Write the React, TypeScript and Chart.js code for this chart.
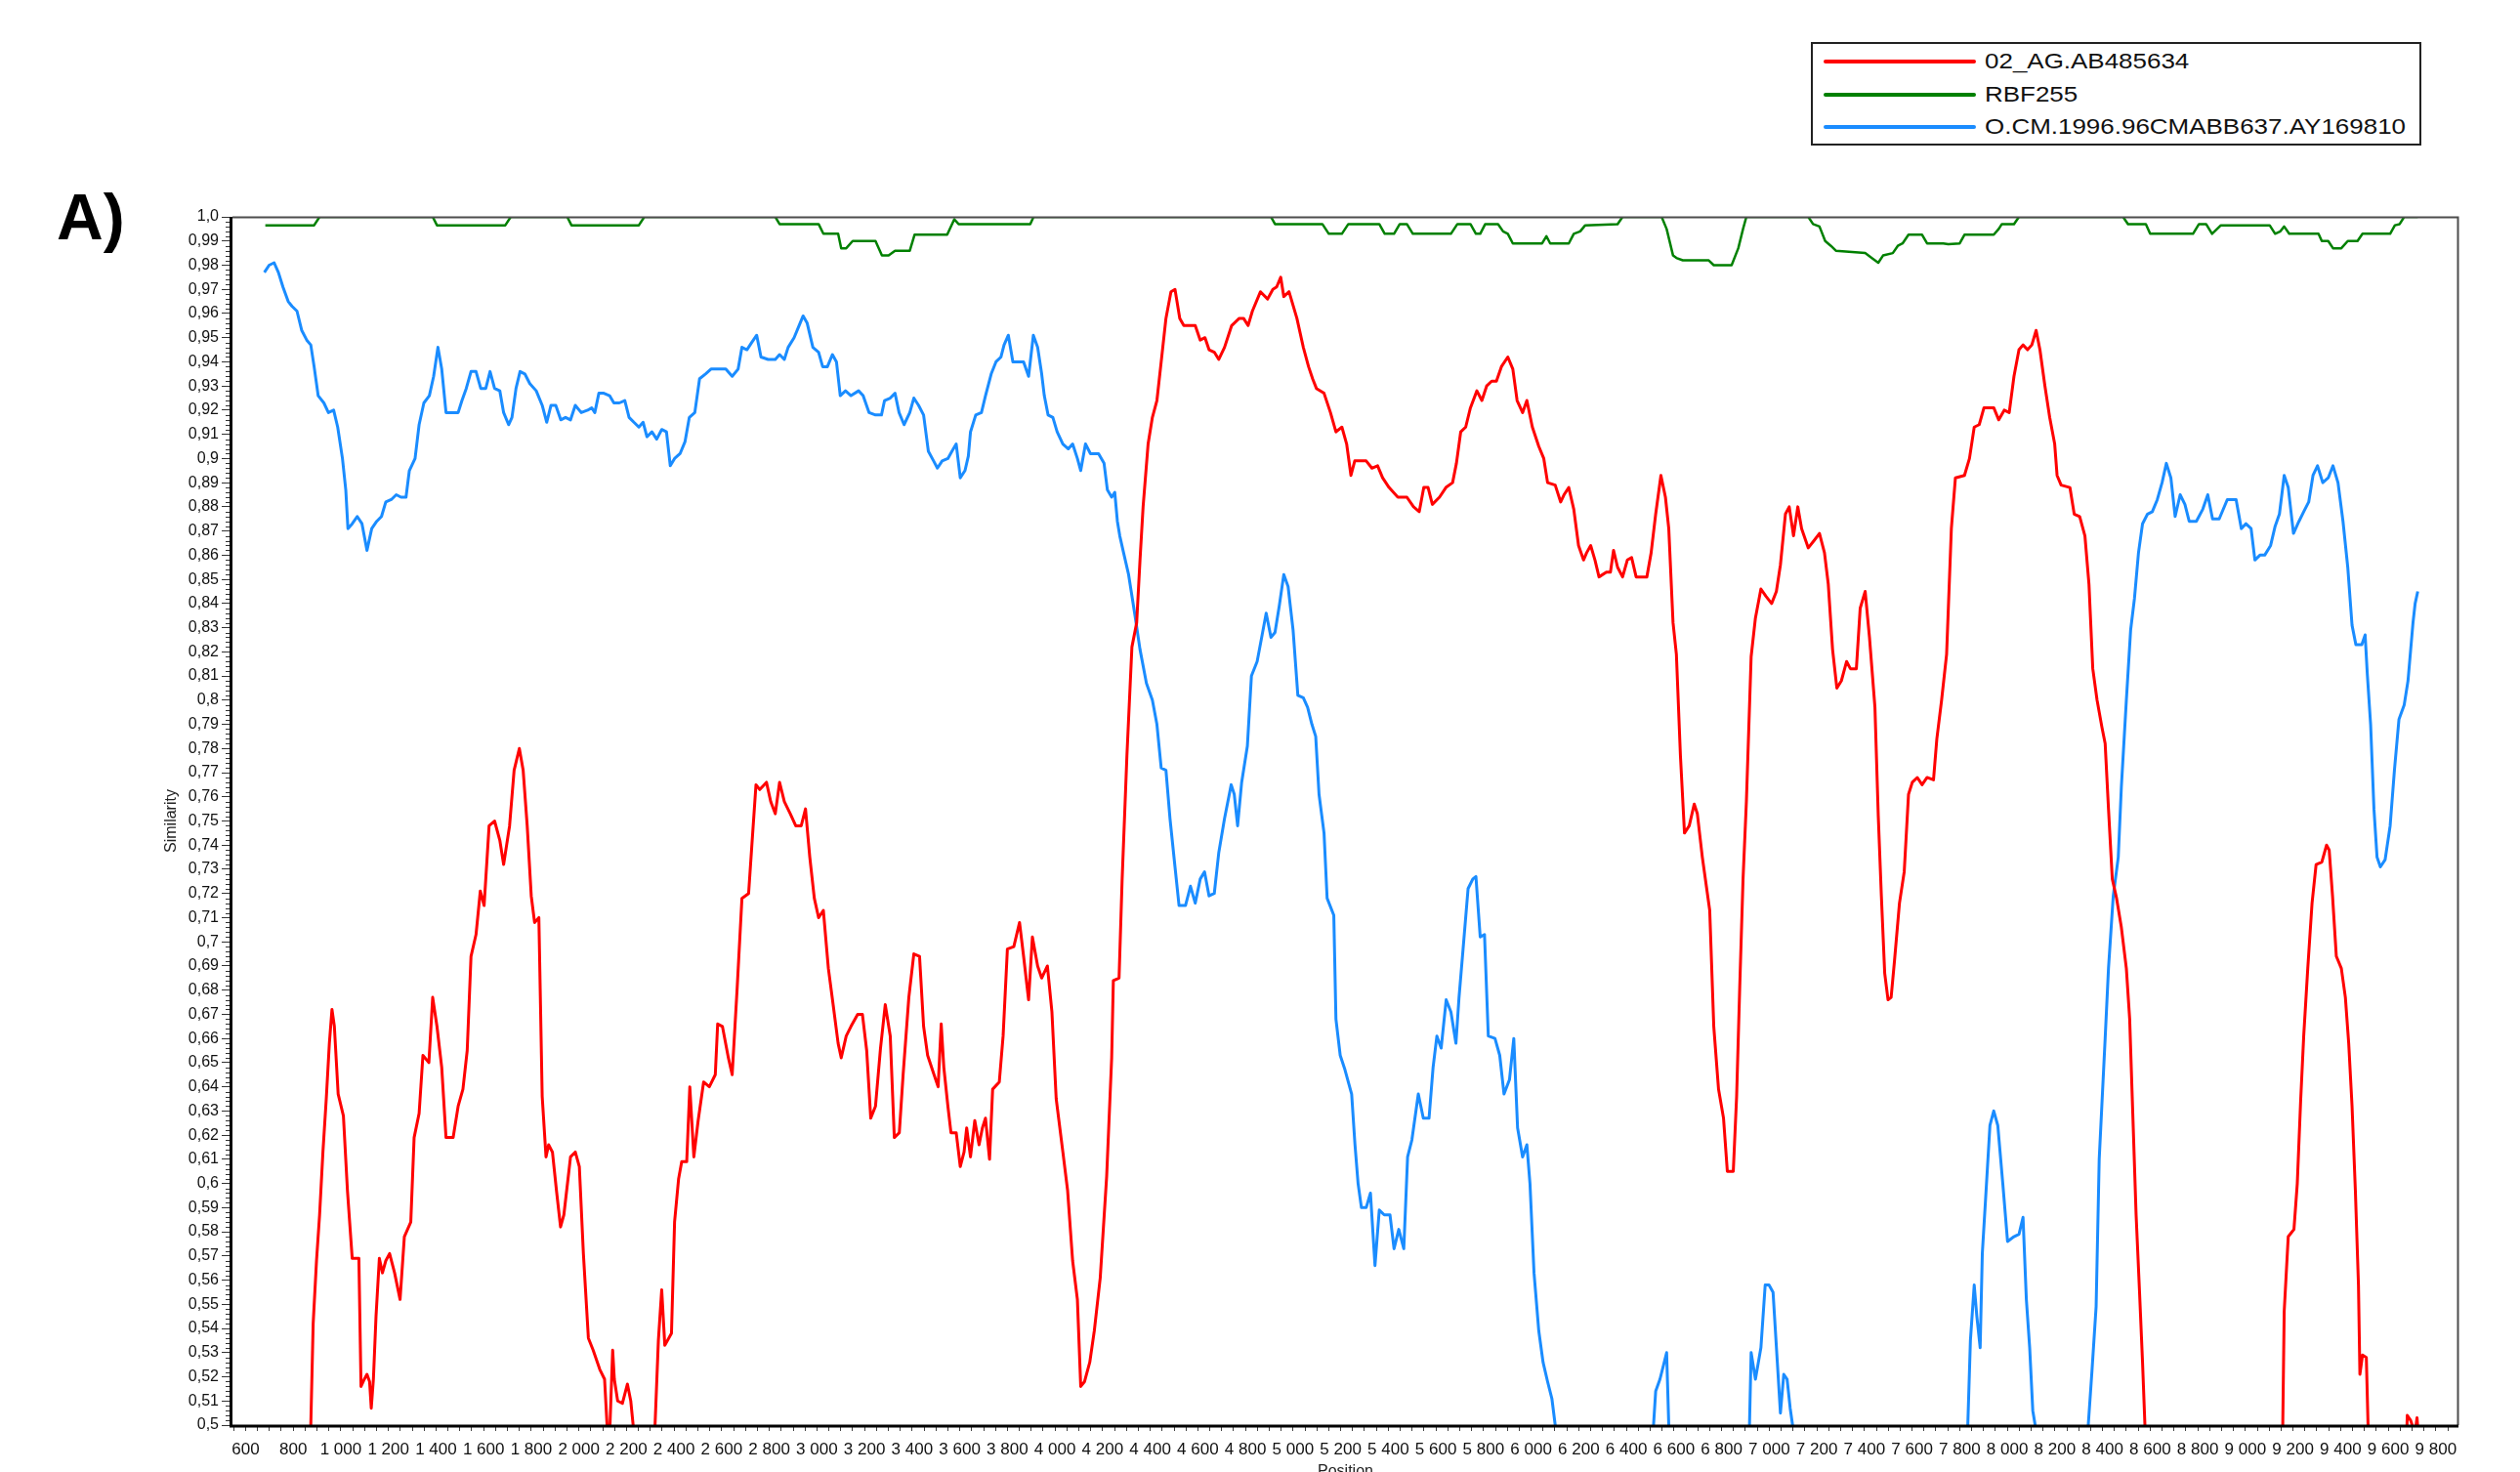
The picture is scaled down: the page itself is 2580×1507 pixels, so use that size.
import React, { useEffect, useRef } from 'react';
import { Chart, registerables } from 'chart.js';

Chart.register(...registerables);

// ---------- DATA (position, similarity) ----------
const seriesNames = ['02_AG.AB485634', 'RBF255', 'O.CM.1996.96CMABB637.AY169810'];
const seriesColors = ['#ff0000', '#008000', '#1a8cff'];

const redSeries: [number, number][] = [
  [680, 0.46], [866, 0.47], [874, 0.5], [884, 0.542], [898, 0.568], [911, 0.587], [925, 0.613], [939, 0.635],
  [952, 0.658], [963, 0.672], [973, 0.665], [989, 0.637], [1011, 0.628], [1028, 0.597], [1048, 0.569],
  [1076, 0.569], [1085, 0.516], [1099, 0.519], [1110, 0.521], [1121, 0.518], [1128, 0.507], [1137, 0.519],
  [1148, 0.545], [1162, 0.569], [1175, 0.563], [1189, 0.568], [1205, 0.571], [1226, 0.563], [1249, 0.552],
  [1267, 0.578], [1294, 0.584], [1308, 0.619], [1329, 0.629], [1345, 0.653], [1370, 0.65], [1386, 0.677],
  [1404, 0.665], [1424, 0.648], [1442, 0.619], [1472, 0.619], [1493, 0.632], [1513, 0.639], [1531, 0.655],
  [1547, 0.694], [1568, 0.703], [1586, 0.721], [1602, 0.715], [1623, 0.748], [1646, 0.75], [1668, 0.742],
  [1684, 0.732], [1709, 0.748], [1728, 0.771], [1750, 0.78], [1766, 0.771], [1783, 0.748], [1800, 0.719],
  [1814, 0.708], [1832, 0.71], [1846, 0.636], [1862, 0.611], [1873, 0.616], [1889, 0.613], [1906, 0.597],
  [1923, 0.582], [1937, 0.587], [1965, 0.611], [1985, 0.613], [2002, 0.607], [2019, 0.571], [2040, 0.536],
  [2060, 0.531], [2088, 0.523], [2108, 0.519], [2119, 0.499], [2130, 0.498], [2142, 0.531], [2149, 0.519],
  [2163, 0.51], [2183, 0.509], [2204, 0.517], [2218, 0.51], [2231, 0.497], [2240, 0.47], [2310, 0.47],
  [2320, 0.5], [2334, 0.535], [2348, 0.556], [2361, 0.533], [2389, 0.538], [2402, 0.584], [2419, 0.602],
  [2432, 0.609], [2453, 0.609], [2466, 0.64], [2483, 0.611], [2501, 0.626], [2524, 0.642], [2548, 0.64],
  [2573, 0.645], [2583, 0.666], [2603, 0.665], [2628, 0.652], [2644, 0.645], [2665, 0.681], [2685, 0.718],
  [2713, 0.72], [2726, 0.739], [2744, 0.765], [2760, 0.763], [2788, 0.766], [2806, 0.758], [2825, 0.753],
  [2843, 0.766], [2863, 0.758], [2888, 0.753], [2911, 0.748], [2934, 0.748], [2952, 0.755], [2970, 0.735],
  [2989, 0.718], [3007, 0.71], [3027, 0.713], [3048, 0.689], [3068, 0.674], [3089, 0.658], [3102, 0.652],
  [3123, 0.661], [3143, 0.665], [3171, 0.67], [3191, 0.67], [3209, 0.655], [3226, 0.627], [3246, 0.632],
  [3267, 0.656], [3287, 0.674], [3308, 0.661], [3325, 0.619], [3346, 0.621], [3362, 0.645], [3386, 0.677],
  [3407, 0.695], [3431, 0.694], [3448, 0.665], [3465, 0.653], [3485, 0.647], [3509, 0.64], [3522, 0.666],
  [3533, 0.648], [3550, 0.632], [3563, 0.621], [3585, 0.621], [3602, 0.607], [3618, 0.613], [3629, 0.623],
  [3645, 0.611], [3663, 0.626], [3681, 0.616], [3695, 0.623], [3708, 0.627], [3725, 0.61], [3738, 0.639],
  [3766, 0.642], [3782, 0.661], [3800, 0.697], [3827, 0.698], [3851, 0.708], [3868, 0.694], [3889, 0.676],
  [3905, 0.702], [3927, 0.69], [3944, 0.685], [3968, 0.69], [3987, 0.671], [4005, 0.635], [4033, 0.613],
  [4053, 0.597], [4074, 0.568], [4094, 0.552], [4108, 0.516], [4124, 0.518], [4146, 0.526], [4165, 0.539],
  [4190, 0.561], [4217, 0.603], [4238, 0.652], [4245, 0.684], [4269, 0.685], [4282, 0.726], [4302, 0.777],
  [4323, 0.822], [4343, 0.832], [4357, 0.858], [4370, 0.88], [4391, 0.906], [4409, 0.917], [4428, 0.924],
  [4446, 0.94], [4466, 0.958], [4487, 0.969], [4504, 0.97], [4524, 0.958], [4541, 0.955], [4589, 0.955],
  [4610, 0.949], [4630, 0.95], [4647, 0.945], [4669, 0.944], [4688, 0.941], [4712, 0.946], [4742, 0.955],
  [4774, 0.958], [4792, 0.958], [4811, 0.955], [4829, 0.961], [4863, 0.969], [4893, 0.966], [4915, 0.97],
  [4931, 0.971], [4948, 0.975], [4961, 0.967], [4983, 0.969], [5016, 0.958], [5043, 0.946], [5065, 0.938],
  [5082, 0.933], [5098, 0.929], [5130, 0.927], [5157, 0.919], [5180, 0.911], [5205, 0.913], [5225, 0.906],
  [5243, 0.893], [5259, 0.899], [5307, 0.899], [5331, 0.896], [5355, 0.897], [5376, 0.892], [5403, 0.888],
  [5440, 0.884], [5478, 0.884], [5506, 0.88], [5530, 0.878], [5549, 0.888], [5567, 0.888], [5585, 0.881],
  [5615, 0.884], [5642, 0.888], [5670, 0.89], [5686, 0.898], [5704, 0.911], [5725, 0.913], [5745, 0.921],
  [5772, 0.928], [5793, 0.924], [5813, 0.93], [5834, 0.932], [5854, 0.932], [5875, 0.938], [5902, 0.942],
  [5923, 0.937], [5941, 0.924], [5964, 0.919], [5982, 0.924], [6005, 0.913], [6032, 0.905], [6053, 0.9],
  [6069, 0.89], [6101, 0.889], [6124, 0.882], [6138, 0.885], [6158, 0.888], [6179, 0.879], [6199, 0.864],
  [6220, 0.858], [6233, 0.861], [6250, 0.864], [6268, 0.858], [6285, 0.851], [6316, 0.853], [6333, 0.853],
  [6346, 0.862], [6363, 0.855], [6384, 0.851], [6404, 0.858], [6422, 0.859], [6441, 0.851], [6486, 0.851],
  [6504, 0.861], [6523, 0.877], [6545, 0.893], [6564, 0.884], [6578, 0.871], [6596, 0.832], [6610, 0.819],
  [6627, 0.777], [6644, 0.745], [6664, 0.748], [6685, 0.757], [6698, 0.753], [6719, 0.735], [6750, 0.713],
  [6767, 0.665], [6787, 0.639], [6808, 0.627], [6824, 0.605], [6849, 0.605], [6863, 0.636], [6876, 0.681],
  [6890, 0.726], [6904, 0.758], [6924, 0.818], [6942, 0.834], [6965, 0.846], [6986, 0.843], [7010, 0.84],
  [7030, 0.845], [7047, 0.856], [7068, 0.877], [7084, 0.88], [7102, 0.868], [7120, 0.88], [7136, 0.871],
  [7164, 0.863], [7188, 0.866], [7211, 0.869], [7232, 0.861], [7248, 0.848], [7266, 0.821], [7284, 0.805],
  [7303, 0.808], [7325, 0.816], [7341, 0.813], [7366, 0.813], [7382, 0.838], [7403, 0.845], [7421, 0.826],
  [7444, 0.797], [7458, 0.752], [7471, 0.719], [7485, 0.687], [7499, 0.676], [7512, 0.677], [7526, 0.692],
  [7547, 0.716], [7567, 0.729], [7585, 0.761], [7601, 0.766], [7622, 0.768], [7642, 0.765], [7663, 0.768],
  [7690, 0.767], [7704, 0.784], [7724, 0.8], [7745, 0.819], [7765, 0.871], [7782, 0.892], [7820, 0.893],
  [7841, 0.9], [7861, 0.913], [7882, 0.914], [7902, 0.921], [7943, 0.921], [7964, 0.916], [7987, 0.92],
  [8008, 0.919], [8028, 0.934], [8049, 0.945], [8066, 0.947], [8085, 0.945], [8103, 0.947], [8121, 0.953],
  [8137, 0.945], [8158, 0.93], [8178, 0.917], [8199, 0.906], [8209, 0.893], [8226, 0.889], [8263, 0.888],
  [8281, 0.877], [8304, 0.876], [8326, 0.868], [8343, 0.848], [8359, 0.813], [8377, 0.8], [8397, 0.789],
  [8411, 0.782], [8425, 0.755], [8441, 0.726], [8459, 0.718], [8479, 0.706], [8500, 0.689], [8514, 0.668],
  [8527, 0.629], [8541, 0.587], [8555, 0.556], [8568, 0.526], [8578, 0.5], [8590, 0.46], [9145, 0.46],
  [9157, 0.5], [9163, 0.547], [9180, 0.578], [9204, 0.581], [9218, 0.6], [9232, 0.634], [9245, 0.661],
  [9262, 0.689], [9280, 0.716], [9297, 0.732], [9321, 0.733], [9341, 0.74], [9352, 0.738], [9366, 0.719],
  [9382, 0.694], [9403, 0.689], [9420, 0.677], [9434, 0.658], [9448, 0.632], [9462, 0.597], [9475, 0.558],
  [9481, 0.521], [9492, 0.529], [9508, 0.528], [9516, 0.497], [9530, 0.47], [9670, 0.47], [9680, 0.504],
  [9694, 0.502], [9704, 0.499], [9714, 0.498], [9721, 0.503], [9730, 0.49],
];

const greenSeries: [number, number][] = [
  [683, 0.9965], [888, 0.9965], [911, 1.0], [1386, 1.0], [1404, 0.9965], [1691, 0.9965], [1714, 1.0],
  [1951, 1.0], [1969, 0.9965], [2252, 0.9965], [2275, 1.0], [2825, 1.0], [2843, 0.997], [3007, 0.997],
  [3027, 0.993], [3089, 0.993], [3102, 0.987], [3123, 0.987], [3150, 0.99], [3246, 0.99], [3273, 0.984],
  [3301, 0.984], [3328, 0.986], [3390, 0.986], [3410, 0.9926], [3547, 0.9926], [3577, 0.999], [3595, 0.997],
  [3896, 0.997], [3910, 1.0], [4907, 1.0], [4924, 0.997], [5123, 0.997], [5150, 0.993], [5205, 0.993],
  [5232, 0.997], [5362, 0.997], [5385, 0.993], [5424, 0.993], [5448, 0.997], [5478, 0.997], [5503, 0.993],
  [5663, 0.993], [5690, 0.997], [5745, 0.997], [5768, 0.993], [5786, 0.993], [5807, 0.997], [5861, 0.997],
  [5882, 0.994], [5902, 0.993], [5923, 0.989], [6046, 0.989], [6064, 0.992], [6080, 0.989], [6158, 0.989],
  [6179, 0.993], [6206, 0.994], [6227, 0.9965], [6363, 0.997], [6384, 1.0], [6548, 1.0], [6569, 0.995],
  [6596, 0.984], [6610, 0.983], [6637, 0.982], [6746, 0.982], [6767, 0.98], [6842, 0.98], [6870, 0.987],
  [6890, 0.995], [6904, 1.0], [7164, 1.0], [7184, 0.997], [7211, 0.996], [7235, 0.99], [7259, 0.988],
  [7280, 0.986], [7403, 0.985], [7430, 0.983], [7458, 0.981], [7478, 0.984], [7519, 0.985], [7540, 0.988],
  [7560, 0.989], [7585, 0.9926], [7642, 0.9926], [7663, 0.989], [7731, 0.989], [7752, 0.9887], [7800, 0.989],
  [7820, 0.9926], [7943, 0.9926], [7964, 0.995], [7977, 0.997], [8028, 0.997], [8049, 1.0], [8486, 1.0],
  [8507, 0.997], [8582, 0.997], [8600, 0.993], [8780, 0.993], [8805, 0.997], [8835, 0.997], [8860, 0.993],
  [8897, 0.9965], [9102, 0.9965], [9125, 0.993], [9147, 0.994], [9163, 0.996], [9184, 0.993], [9307, 0.993],
  [9321, 0.99], [9348, 0.99], [9368, 0.987], [9403, 0.987], [9430, 0.99], [9471, 0.99], [9492, 0.993],
  [9608, 0.993], [9628, 0.9965], [9648, 0.997], [9667, 1.0], [9724, 1.0],
];

const blueSeries: [number, number][] = [
  [679, 0.977], [699, 0.98], [720, 0.981], [738, 0.977], [757, 0.971], [779, 0.965], [795, 0.963], [816, 0.961],
  [836, 0.953], [857, 0.949], [874, 0.947], [888, 0.938], [905, 0.926], [929, 0.923], [948, 0.919], [970, 0.92],
  [987, 0.913], [1007, 0.9], [1021, 0.887], [1030, 0.871], [1048, 0.873], [1069, 0.876], [1089, 0.873],
  [1110, 0.862], [1130, 0.871], [1151, 0.874], [1171, 0.876], [1189, 0.882], [1212, 0.883], [1233, 0.885],
  [1253, 0.884], [1274, 0.884], [1288, 0.895], [1312, 0.9], [1329, 0.914], [1349, 0.923], [1372, 0.926],
  [1390, 0.934], [1408, 0.946], [1424, 0.937], [1442, 0.919], [1465, 0.919], [1493, 0.919], [1509, 0.924],
  [1527, 0.929], [1547, 0.936], [1568, 0.936], [1588, 0.929], [1609, 0.929], [1627, 0.936], [1646, 0.929],
  [1668, 0.928], [1684, 0.919], [1705, 0.914], [1719, 0.917], [1736, 0.929], [1753, 0.936], [1773, 0.935],
  [1794, 0.931], [1821, 0.928], [1846, 0.922], [1865, 0.915], [1883, 0.922], [1903, 0.922], [1924, 0.916],
  [1944, 0.917], [1965, 0.916], [1985, 0.922], [2010, 0.919], [2037, 0.92], [2054, 0.921], [2067, 0.919],
  [2084, 0.927], [2105, 0.927], [2129, 0.926], [2147, 0.923], [2170, 0.923], [2193, 0.924], [2211, 0.917],
  [2231, 0.915], [2252, 0.913], [2270, 0.915], [2286, 0.909], [2307, 0.911], [2327, 0.908], [2348, 0.912],
  [2368, 0.911], [2384, 0.897], [2402, 0.9], [2425, 0.902], [2446, 0.907], [2464, 0.917], [2487, 0.919],
  [2507, 0.933], [2532, 0.935], [2555, 0.937], [2617, 0.937], [2644, 0.934], [2669, 0.937], [2685, 0.946],
  [2706, 0.945], [2726, 0.948], [2747, 0.951], [2765, 0.942], [2795, 0.941], [2825, 0.941], [2843, 0.943],
  [2863, 0.941], [2879, 0.946], [2904, 0.95], [2925, 0.955], [2942, 0.959], [2959, 0.956], [2983, 0.946],
  [3007, 0.944], [3024, 0.938], [3044, 0.938], [3065, 0.943], [3082, 0.94], [3098, 0.926], [3120, 0.928],
  [3143, 0.926], [3175, 0.928], [3194, 0.926], [3219, 0.919], [3246, 0.918], [3271, 0.918], [3284, 0.924],
  [3308, 0.925], [3328, 0.927], [3345, 0.919], [3366, 0.914], [3390, 0.919], [3407, 0.925], [3427, 0.922],
  [3448, 0.918], [3468, 0.903], [3490, 0.899], [3506, 0.896], [3526, 0.899], [3550, 0.9], [3567, 0.903],
  [3585, 0.906], [3602, 0.892], [3622, 0.895], [3636, 0.901], [3645, 0.911], [3667, 0.918], [3691, 0.919],
  [3708, 0.926], [3732, 0.935], [3752, 0.94], [3773, 0.942], [3786, 0.947], [3804, 0.951], [3823, 0.94],
  [3845, 0.94], [3868, 0.94], [3889, 0.934], [3909, 0.951], [3927, 0.946], [3944, 0.935], [3955, 0.926],
  [3971, 0.918], [3991, 0.917], [4009, 0.911], [4033, 0.906], [4056, 0.904], [4074, 0.906], [4094, 0.9],
  [4108, 0.895], [4128, 0.906], [4149, 0.902], [4183, 0.902], [4206, 0.898], [4220, 0.887], [4238, 0.884],
  [4251, 0.886], [4262, 0.874], [4272, 0.868], [4288, 0.861], [4309, 0.852], [4336, 0.835], [4357, 0.821],
  [4384, 0.807], [4409, 0.8], [4428, 0.79], [4446, 0.772], [4466, 0.771], [4483, 0.751], [4504, 0.731],
  [4521, 0.715], [4548, 0.715], [4569, 0.723], [4589, 0.716], [4610, 0.726], [4628, 0.729], [4647, 0.719],
  [4669, 0.72], [4688, 0.737], [4712, 0.751], [4740, 0.765], [4753, 0.761], [4767, 0.748], [4784, 0.766],
  [4808, 0.781], [4825, 0.81], [4849, 0.816], [4870, 0.827], [4887, 0.836], [4907, 0.826], [4924, 0.828],
  [4942, 0.839], [4961, 0.852], [4979, 0.847], [5000, 0.829], [5020, 0.802], [5043, 0.801], [5061, 0.797],
  [5079, 0.79], [5095, 0.785], [5109, 0.761], [5130, 0.745], [5143, 0.718], [5171, 0.711], [5180, 0.668],
  [5198, 0.653], [5218, 0.647], [5246, 0.637], [5260, 0.616], [5273, 0.6], [5287, 0.59], [5307, 0.59],
  [5325, 0.596], [5344, 0.566], [5362, 0.589], [5383, 0.587], [5407, 0.587], [5424, 0.573], [5444, 0.581],
  [5465, 0.573], [5481, 0.611], [5499, 0.618], [5526, 0.637], [5547, 0.627], [5571, 0.627], [5588, 0.648],
  [5604, 0.661], [5622, 0.656], [5643, 0.676], [5663, 0.671], [5684, 0.658], [5697, 0.677], [5714, 0.697],
  [5735, 0.722], [5755, 0.726], [5768, 0.727], [5786, 0.702], [5804, 0.703], [5820, 0.661], [5848, 0.66],
  [5868, 0.653], [5886, 0.637], [5909, 0.643], [5927, 0.66], [5943, 0.623], [5964, 0.611], [5982, 0.616],
  [5995, 0.6], [6012, 0.563], [6032, 0.539], [6050, 0.526], [6069, 0.518], [6087, 0.511], [6101, 0.5],
  [6110, 0.47], [6505, 0.47], [6514, 0.5], [6523, 0.514], [6541, 0.519], [6559, 0.526], [6569, 0.53],
  [6578, 0.5], [6585, 0.47], [6910, 0.47], [6917, 0.5], [6924, 0.53], [6942, 0.519], [6965, 0.532],
  [6983, 0.558], [6999, 0.558], [7016, 0.555], [7034, 0.526], [7047, 0.505], [7061, 0.521], [7075, 0.519],
  [7088, 0.507], [7098, 0.5], [7105, 0.47], [7825, 0.47], [7834, 0.5], [7845, 0.535], [7861, 0.558],
  [7872, 0.545], [7886, 0.532], [7895, 0.571], [7909, 0.594], [7927, 0.624], [7943, 0.63], [7960, 0.624],
  [7981, 0.6], [8001, 0.576], [8028, 0.578], [8049, 0.579], [8066, 0.586], [8080, 0.552], [8094, 0.532],
  [8107, 0.506], [8117, 0.5], [8125, 0.47], [8332, 0.47], [8340, 0.5], [8356, 0.523], [8373, 0.549],
  [8386, 0.61], [8397, 0.632], [8411, 0.66], [8425, 0.689], [8445, 0.719], [8466, 0.735], [8479, 0.764],
  [8500, 0.8], [8518, 0.829], [8534, 0.842], [8551, 0.861], [8568, 0.873], [8589, 0.877], [8609, 0.878],
  [8630, 0.883], [8650, 0.89], [8668, 0.898], [8687, 0.892], [8705, 0.876], [8726, 0.885], [8746, 0.881],
  [8764, 0.874], [8794, 0.874], [8821, 0.879], [8842, 0.885], [8862, 0.875], [8890, 0.875], [8924, 0.883],
  [8961, 0.883], [8983, 0.871], [9002, 0.873], [9024, 0.871], [9040, 0.858], [9061, 0.86], [9081, 0.86],
  [9106, 0.864], [9125, 0.872], [9143, 0.877], [9163, 0.893], [9180, 0.888], [9202, 0.869], [9225, 0.874],
  [9245, 0.878], [9266, 0.882], [9284, 0.893], [9303, 0.897], [9325, 0.89], [9348, 0.892], [9368, 0.897],
  [9389, 0.89], [9410, 0.874], [9430, 0.855], [9448, 0.831], [9464, 0.823], [9489, 0.823], [9503, 0.827],
  [9512, 0.811], [9526, 0.79], [9540, 0.755], [9553, 0.735], [9567, 0.731], [9587, 0.734], [9608, 0.748],
  [9626, 0.771], [9645, 0.792], [9667, 0.798], [9683, 0.808], [9704, 0.832], [9713, 0.84], [9724, 0.845],
];

const allSeries = [redSeries, greenSeries, blueSeries];

// axis bounds
const X_MIN = 545;
const X_MAX = 9895;
const Y_MIN = 0.5;
const Y_MAX = 1.0;

const FONT = '"Liberation Sans", Arial, Helvetica, sans-serif';

function fmtPosition(v: number): string {
  if (v >= 1000) {
    const th = Math.floor(v / 1000);
    const rest = String(v % 1000).padStart(3, '0');
    return `${th} ${rest}`;
  }
  return String(v);
}

function fmtSimilarity(v: number): string {
  const c = Math.round(v * 100);
  if (c === 100) return '1,0';
  return String(c / 100).replace('.', ',');
}

const framePlugin = {
  id: 'simplotFrame',
  afterDatasetsDraw(chart: any) {
    const { ctx, chartArea: a, scales } = chart;
    ctx.save();
    // thin top/right frame
    ctx.strokeStyle = '#4d4d4d';
    ctx.lineWidth = 2;
    ctx.beginPath();
    ctx.moveTo(a.left, a.top + 0.5);
    ctx.lineTo(a.right - 0.5, a.top + 0.5);
    ctx.lineTo(a.right - 0.5, a.bottom);
    ctx.stroke();
    // minor ticks on the similarity axis
    const ys = scales.y;
    ctx.strokeStyle = '#333';
    ctx.lineWidth = 1;
    for (let i = 0; i <= 250; i++) {
      if (i % 5 === 0) continue;
      const py = Math.round(ys.getPixelForValue(Y_MIN + i * 0.002)) + 0.5;
      ctx.beginPath();
      ctx.moveTo(a.left - 7, py);
      ctx.lineTo(a.left - 2, py);
      ctx.stroke();
    }
    // thick left & bottom axes
    ctx.strokeStyle = '#000';
    ctx.lineWidth = 3;
    ctx.beginPath();
    ctx.moveTo(a.left - 1.5, a.top);
    ctx.lineTo(a.left - 1.5, a.bottom + 2.5);
    ctx.moveTo(a.left - 3, a.bottom + 1);
    ctx.lineTo(a.right, a.bottom + 1);
    ctx.stroke();
    ctx.restore();
  },
};

function SimPlotChart() {
  const ref = useRef<HTMLCanvasElement | null>(null);
  useEffect(() => {
    if (!ref.current) return;
    Chart.defaults.font.family = FONT;
    const datasets = allSeries.map((s, i) => ({
      label: seriesNames[i],
      data: s.map(([x, y]) => ({ x, y })),
      borderColor: seriesColors[i],
      backgroundColor: seriesColors[i],
      borderWidth: i === 1 ? 2.5 : 3,
      pointRadius: 0,
      tension: 0,
      fill: false,
      clip: 0,
      borderJoinStyle: 'round' as const,
    }));
    const chart = new Chart(ref.current, {
      type: 'line',
      data: { datasets },
      options: {
        animation: false,
        responsive: false,
        maintainAspectRatio: false,
        devicePixelRatio: 1,
        events: [],
        layout: { padding: { top: 222, right: 63, left: 0, bottom: 0 } },
        plugins: { legend: { display: false }, tooltip: { enabled: false }, title: { display: false } },
        scales: {
          x: {
            type: 'linear',
            min: X_MIN,
            max: X_MAX,
            afterFit: (s: any) => { s.height = 48; },
            afterBuildTicks: (s: any) => {
              const t: { value: number }[] = [];
              for (let v = 550; v <= 9850; v += 50) t.push({ value: v });
              s.ticks = t;
            },
            ticks: {
              autoSkip: false,
              maxRotation: 0,
              minRotation: 0,
              padding: 9,
              color: '#111',
              font: { size: 17, family: FONT },
              callback: (v: any) => (Number(v) % 200 === 0 ? fmtPosition(Number(v)) : ''),
            },
            grid: { drawOnChartArea: false, drawTicks: true, tickLength: 6, color: '#444', lineWidth: 1 },
            border: { display: false },
            title: {
              display: true,
              text: 'Position',
              color: '#222',
              font: { size: 16, family: FONT },
              padding: { top: 0, bottom: -9 },
            },
          },
          y: {
            type: 'linear',
            min: Y_MIN,
            max: Y_MAX,
            afterFit: (s: any) => { s.width = 238; },
            afterBuildTicks: (s: any) => {
              const t: { value: number }[] = [];
              for (let i = 0; i <= 50; i++) t.push({ value: Math.round((Y_MIN + i * 0.01) * 100) / 100 });
              s.ticks = t;
            },
            ticks: {
              autoSkip: false,
              padding: 3,
              color: '#111',
              font: { size: 16, family: FONT },
              callback: (v: any) => fmtSimilarity(Number(v)),
            },
            grid: { drawOnChartArea: false, drawTicks: true, tickLength: 11, color: '#333', lineWidth: 1 },
            border: { display: false },
            title: {
              display: true,
              text: 'Similarity',
              color: '#222',
              font: { size: 16, family: FONT },
              padding: { top: 166, bottom: 0 },
            },
          },
        },
      },
      plugins: [framePlugin],
    });
    return () => chart.destroy();
  }, []);
  return (
    <canvas
      ref={ref}
      width={2580}
      height={1507}
      style={{ position: 'absolute', left: 0, top: 0, width: 2580, height: 1507, display: 'block' }}
    />
  );
}

function Legend() {
  const rows = [20, 54, 87];
  return (
    <div
      style={{
        position: 'absolute',
        left: 1854,
        top: 43,
        width: 625,
        height: 106,
        border: '2px solid #222',
        boxSizing: 'border-box',
        background: '#fff',
      }}
    >
      {seriesNames.map((name, i) => (
        <React.Fragment key={name}>
          <div
            style={{
              position: 'absolute',
              left: 11,
              top: rows[i] - 2 - 2,
              width: 156,
              height: 4,
              borderRadius: 2,
              background: seriesColors[i],
            }}
          />
          <div
            style={{
              position: 'absolute',
              left: 176,
              top: rows[i] - 2 - 11,
              fontFamily: FONT,
              fontSize: 22,
              lineHeight: '22px',
              color: '#111',
              whiteSpace: 'nowrap',
              transform: 'scaleX(1.18)',
              transformOrigin: 'left center',
            }}
          >
            {name}
          </div>
        </React.Fragment>
      ))}
    </div>
  );
}

export default function App() {
  return (
    <div
      style={{
        position: 'absolute',
        left: 0,
        top: 0,
        width: 2580,
        height: 1507,
        overflow: 'hidden',
        background: '#fff',
      }}
    >
      <SimPlotChart />
      <div
        style={{
          position: 'absolute',
          left: 58,
          top: 189,
          fontFamily: FONT,
          fontWeight: 'bold',
          fontSize: 66,
          lineHeight: '66px',
          color: '#000',
          whiteSpace: 'nowrap',
        }}
      >
        A)
      </div>
      <Legend />
    </div>
  );
}
